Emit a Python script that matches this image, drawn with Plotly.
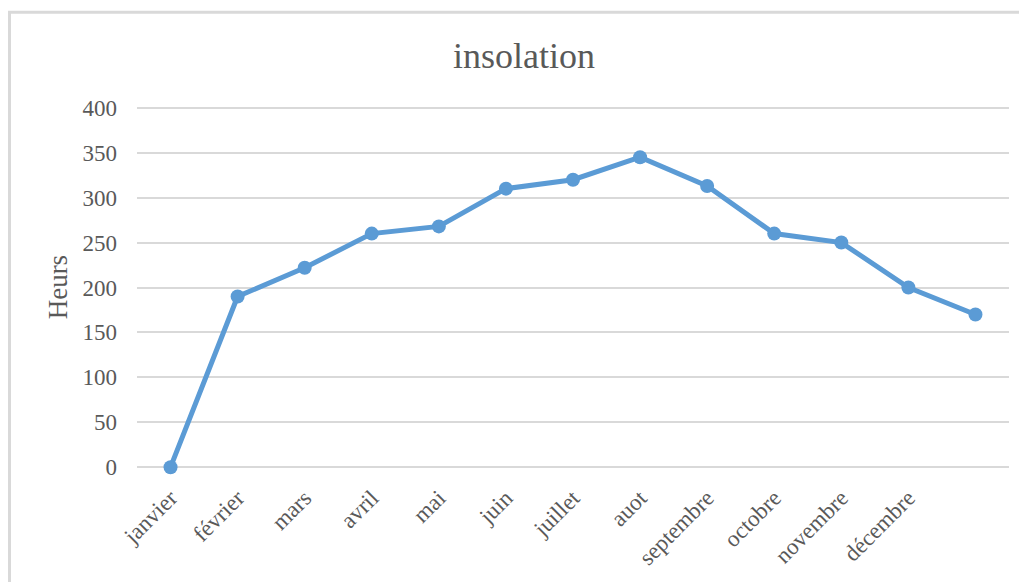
import plotly.graph_objects as go

months = ["janvier", "février", "mars", "avril", "mai", "juin", "juillet",
          "auot", "septembre", "octobre", "novembre", "décembre", ""]
categories = list(range(13))
hours = [0, 190, 222, 260, 268, 310, 320, 345, 313, 260, 250, 200, 170]
y_ticks = [0, 50, 100, 150, 200, 250, 300, 350, 400]

OFF = 8  # page body margin
W, H = 1027 - OFF, 582 - OFF
# target screen coordinates
x_left, x_right = 137, 1009
y400, y0 = 108.3, 469
ppu = (y0 - y400) / 400.0
ymin, ymax = -2, 402
top_px = y400 - (ymax - 400) * ppu
bot_px = y0 + (0 - ymin) * ppu

L = x_left - OFF
R = W - (x_right - OFF)
T = top_px - OFF
B = H - (bot_px - OFF)
pw, ph = W - L - R, H - T - B


def sx(px):
    return (px - x_left) / pw


def sy(py):
    return (bot_px - py) / ph


fig = go.Figure()
fig.add_trace(go.Scatter(
    x=categories, y=hours, mode="lines+markers",
    line=dict(color="#5B9BD5", width=5),
    marker=dict(color="#5B9BD5", size=14),
    showlegend=False, cliponaxis=False,
))

font = "Liberation Serif, Times New Roman, serif"
fig.update_layout(
    width=W, height=H,
    margin=dict(l=L, r=R, t=T, b=B, pad=0),
    paper_bgcolor="white", plot_bgcolor="white",
    title=dict(text="insolation", x=(524 - OFF) / W, xanchor="center",
               y=1 - (55 - OFF) / H, yanchor="middle",
               font=dict(family=font, size=36, color="#595959")),
    font=dict(family=font, color="#595959"),
    xaxis=dict(
        tickmode="array", tickvals=categories, ticktext=months,
        range=[-0.5, 12.5], tickangle=-45, showgrid=False, zeroline=False,
        showline=False, ticks="", tickfont=dict(size=23, color="#595959"),
        ticklabelstandoff=int(round(12 - (bot_px - y0))),
    ),
    yaxis=dict(
        range=[ymin, ymax], tickvals=y_ticks, showgrid=True, gridcolor="#d9d9d9",
        gridwidth=2, zeroline=False, showline=False, ticks="",
        tickfont=dict(size=23, color="#595959"), ticklabelstandoff=19,
    ),
    annotations=[dict(
        text="Heurs", textangle=-90, xref="paper", yref="paper",
        x=sx(58), y=sy(288.5), xanchor="center", yanchor="middle",
        showarrow=False, font=dict(family=font, size=27, color="#595959"),
    )],
    shapes=[dict(
        type="rect", xref="paper", yref="paper", layer="below",
        x0=sx(9.5), x1=sx(1045), y0=sy(620), y1=sy(12.5),
        line=dict(color="#d9d9d9", width=3), fillcolor="rgba(0,0,0,0)",
    )],
)

fig.write_html("out.html")
